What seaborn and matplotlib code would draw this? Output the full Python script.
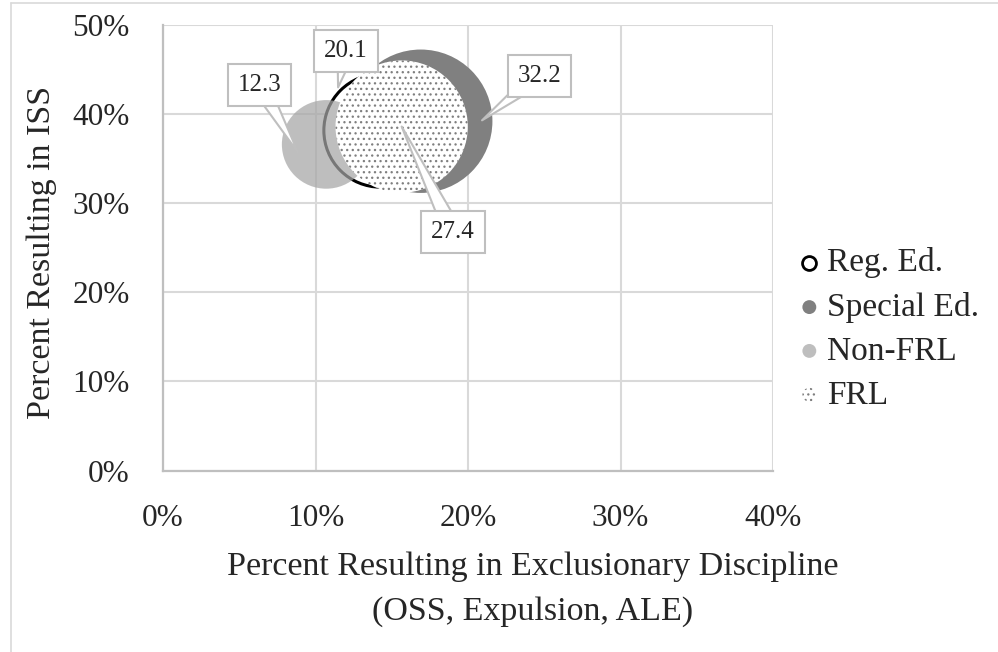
import matplotlib
matplotlib.use("Agg")
import matplotlib.pyplot as plt
import seaborn as sns
import pandas as pd
from matplotlib.lines import Line2D
from matplotlib.collections import PathCollection
from matplotlib.legend_handler import HandlerPathCollection
from matplotlib.ticker import PercentFormatter

# ---------------- data ----------------
groups = ["Reg. Ed.", "Special Ed.", "Non-FRL", "FRL"]
excl_pct = [14.2, 16.9, 10.7, 15.65]      # x: % resulting in exclusionary discipline
iss_pct = [38.2, 39.2, 36.6, 38.6]         # y: % resulting in ISS
bubble_size = [20.1, 32.2, 12.3, 27.4]     # bubble size values (labels)
x_ticks = [0, 10, 20, 30, 40]
y_ticks = [0, 10, 20, 30, 40, 50]

# label placement (text box centre, pointer tip) in data units; None = bubble centre
label_box = [(12.0, 47.1), (24.69, 44.3), (6.33, 43.3), (19.02, 26.8)]
label_tip = [(11.48, 43.0), (20.92, 39.3), (8.85, 35.7), None]

# ---------------- style ----------------
sns.set_style("white")
plt.rcParams["font.family"] = ["Liberation Serif", "DejaVu Serif"]
plt.rcParams["hatch.linewidth"] = 0.9
plt.rcParams["hatch.color"] = "#7f7f7f"

styles = [
    dict(color="white", edgecolor="black", linewidth=2.2, alpha=1.0, hatch=None),
    dict(color="#808080", edgecolor="none", linewidth=0, alpha=1.0, hatch=None),
    dict(color="#a6a6a6", edgecolor="none", linewidth=0, alpha=0.72, hatch=None),
    dict(color="white", edgecolor="#7f7f7f", linewidth=0, alpha=1.0, hatch="..."),
]
SIZE_SCALE = 331.0  # points^2 per unit of bubble size (area proportional)

df = pd.DataFrame({"group": groups, "x": excl_pct, "y": iss_pct, "size": bubble_size})

fig = plt.figure(figsize=(9.98, 6.52), dpi=100)
ax = fig.add_axes([163 / 998, 1 - 470.5 / 652, (773 - 163) / 998, (470.5 - 25) / 652])

for i, row in df.iterrows():
    st = styles[i]
    kw = dict(color=st["color"], edgecolor=st["edgecolor"], linewidth=st["linewidth"],
              alpha=st["alpha"])
    if st["hatch"]:
        kw["hatch"] = st["hatch"]
    sns.scatterplot(x=[row["x"]], y=[row["y"]], size=[row["size"]],
                    sizes=(0, SIZE_SCALE * 40), size_norm=(0, 40),
                    legend=False, ax=ax, zorder=3 + i, **kw)

ax.set_xlim(0, 40)
ax.set_ylim(0, 50)
ax.set_xticks(x_ticks)
ax.set_yticks(y_ticks)
ax.xaxis.set_major_formatter(PercentFormatter(xmax=100, decimals=0))
ax.yaxis.set_major_formatter(PercentFormatter(xmax=100, decimals=0))
ax.tick_params(axis="both", length=0, labelsize=22.5)
ax.tick_params(axis="x", pad=24)
ax.tick_params(axis="y", pad=24)
ax.grid(True, color="#d9d9d9", linewidth=1.5)
ax.set_axisbelow(True)
for side in ["top", "right"]:
    ax.spines[side].set_visible(False)
for side in ["left", "bottom"]:
    ax.spines[side].set_color("#bfbfbf")
    ax.spines[side].set_linewidth(1.6)
ax.set_xlabel("")
ax.set_ylabel("")

# data labels with callout pointers
for i, row in df.iterrows():
    tip = label_tip[i] if label_tip[i] is not None else (row["x"], row["y"])
    ax.annotate(f"{row['size']:.1f}", xy=tip, xytext=label_box[i], textcoords="data",
                ha="center", va="center", fontsize=18, zorder=20,
                bbox=dict(boxstyle="square,pad=0.4", fc="white", ec="#bfbfbf", lw=1.5),
                arrowprops=dict(arrowstyle="wedge,tail_width=0.7,shrink_factor=0.5",
                                fc="white", ec="#bfbfbf", lw=1.5, patchA=None,
                                shrinkA=0, shrinkB=0))

# axis titles
fig.text(533 / 998, 1 - 567 / 652, "Percent Resulting in Exclusionary Discipline",
         ha="center", va="center", fontsize=24.5)
fig.text(533 / 998, 1 - 612 / 652, "(OSS, Expulsion, ALE)",
         ha="center", va="center", fontsize=24.5)
fig.text(42 / 998, 1 - 252 / 652, "Percent Resulting in ISS", rotation=90,
         ha="center", va="center", fontsize=24.5)

# legend
handles = []
for st in styles:
    h = ax.scatter([], [], s=100, facecolors=st["color"],
                   edgecolors=st["edgecolor"] if st["edgecolor"] != "none" else "none",
                   linewidths=2.0 if st["edgecolor"] == "black" else 0,
                   alpha=st["alpha"], hatch=st["hatch"])
    handles.append(h)
ax.legend(handles, groups, loc="center left", bbox_to_anchor=(796 / 998, 1 - 329 / 652),
          bbox_transform=fig.transFigure, frameon=False, fontsize=24,
          handletextpad=0.12, labelspacing=0.40, handlelength=0.8,
          borderpad=0, borderaxespad=0,
          handler_map={PathCollection: HandlerPathCollection(sizes=[100])})

# chart-area frame
fig.add_artist(Line2D([11 / 998, 11 / 998], [0, 1 - 3 / 652], transform=fig.transFigure,
                      color="#d9d9d9", lw=1.2))
fig.add_artist(Line2D([11 / 998, 1], [1 - 3 / 652, 1 - 3 / 652], transform=fig.transFigure,
                      color="#d9d9d9", lw=1.2))

fig.savefig("out.png", dpi=100)
